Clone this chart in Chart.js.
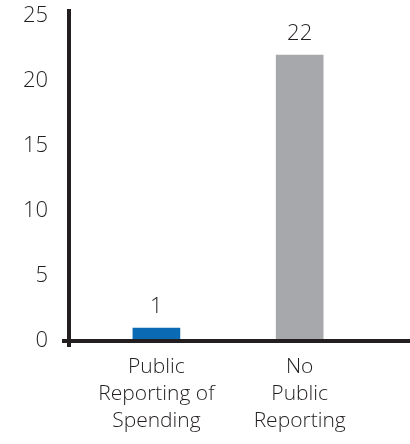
<!DOCTYPE html>
<html>
<head>
<meta charset="utf-8">
<script src="https://cdn.jsdelivr.net/npm/chart.js@4.4.1/dist/chart.umd.min.js"></script>
<style>
  html, body { margin: 0; padding: 0; background: #fff; }
  #wrap { width: 410px; height: 444px; }
</style>
</head>
<body>
<div id="wrap"><canvas id="chart" width="410" height="444"></canvas></div>
<script>
const categories = ["Public Reporting of Spending", "No Public Reporting"];
const categoryLines = [["Public", "Reporting of", "Spending"], ["No", "Public", "Reporting"]];
const counts = [1, 22];
const barColors = ["#0a6ab4", "#a7a8ab"];
const yTicks = [0, 5, 10, 15, 20, 25];

const INK = "#231f20";
const FONT = "'Open Sans', 'Noto Sans', sans-serif";

// axis lines cross and overhang a little, so draw them by hand
const axisLines = {
  id: "axisLines",
  afterDraw(chart) {
    const { ctx, chartArea: a } = chart;
    ctx.save();
    ctx.strokeStyle = INK;
    ctx.lineWidth = 4;
    ctx.beginPath();
    ctx.moveTo(a.left, a.top - 7);
    ctx.lineTo(a.left, a.bottom + 6);
    ctx.moveTo(a.left - 7, a.bottom);
    ctx.lineTo(a.right, a.bottom);
    ctx.stroke();
    ctx.restore();
  }
};

// value above each bar
const valueLabels = {
  id: "valueLabels",
  afterDatasetsDraw(chart) {
    const { ctx } = chart;
    const meta = chart.getDatasetMeta(0);
    ctx.save();
    ctx.fillStyle = INK;
    ctx.font = "300 22px " + FONT;
    ctx.textAlign = "center";
    ctx.textBaseline = "bottom";
    meta.data.forEach((bar, i) => {
      ctx.fillText(String(counts[i]), bar.x, bar.y - 10);
    });
    ctx.restore();
  }
};

new Chart(document.getElementById("chart"), {
  type: "bar",
  data: {
    datasets: [{
      data: categories.map((c, i) => ({ x: i + 1, y: counts[i] })),
      backgroundColor: barColors,
      borderWidth: 0,
      barThickness: 47
    }]
  },
  options: {
    responsive: false,
    animation: false,
    layout: { padding: { top: 16, right: 0, bottom: 0, left: 0 } },
    plugins: {
      legend: { display: false },
      tooltip: { enabled: false }
    },
    scales: {
      x: {
        type: "linear",
        offset: false,
        min: 0.39,
        max: 2.77,
        grid: { display: false, drawTicks: false },
        border: { display: false },
        afterBuildTicks: scale => {
          scale.ticks = categories.map((c, i) => ({ value: i + 1 }));
        },
        afterFit: scale => { scale.height = 103; },
        ticks: {
          autoSkip: false,
          maxRotation: 0,
          padding: 12,
          color: INK,
          font: { family: FONT, size: 21, weight: 300, lineHeight: 1.3 },
          callback: v => categoryLines[v - 1] || ""
        }
      },
      y: {
        min: 0,
        max: 25,
        grid: { display: false, drawTicks: false },
        border: { display: false },
        afterBuildTicks: scale => {
          scale.ticks = yTicks.map(v => ({ value: v }));
        },
        afterFit: scale => {
          scale.width = 69;
          scale.paddingTop = 0;
          scale.paddingBottom = 0;
        },
        ticks: {
          padding: 21,
          color: INK,
          font: { family: FONT, size: 22, weight: 300 }
        }
      }
    }
  },
  plugins: [axisLines, valueLabels]
});
</script>
</body>
</html>
